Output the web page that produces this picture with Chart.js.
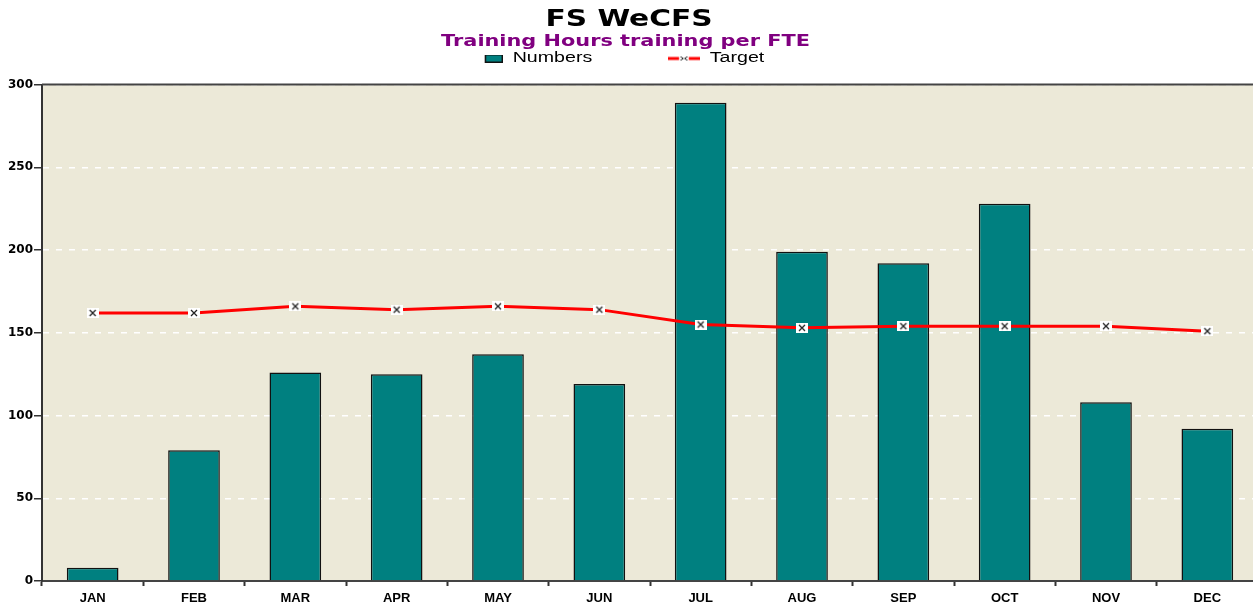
<!DOCTYPE html>
<html>
<head>
<meta charset="utf-8">
<script src="https://cdn.jsdelivr.net/npm/chart.js@4.4.1/dist/chart.umd.min.js"></script>
<style>
  html, body { margin: 0; padding: 0; background: #ffffff; overflow: hidden; width: 1253px; height: 605px; }
  #wrap { width: 1266px; height: 605px; position: relative; }
</style>
</head>
<body>
<div id="wrap"><canvas id="c"></canvas></div>
<script>
const categories = ['JAN','FEB','MAR','APR','MAY','JUN','JUL','AUG','SEP','OCT','NOV','DEC'];
const numbersValues = [8, 79, 126, 125, 137, 119, 289, 199, 192, 228, 108, 92];
const targetValues = [162, 162, 166, 164, 166, 164, 155, 153, 154, 154, 154, 151];
const yTicks = [0, 50, 100, 150, 200, 250, 300];
const titleText = 'FS WeCFS';
const subtitleText = 'Training Hours training per FTE';

// point marker: small white box with dark x
function makeMarker() {
  const c = document.createElement('canvas');
  c.width = 12; c.height = 10;
  const g = c.getContext('2d');
  g.fillStyle = '#ffffff';
  g.fillRect(0, 0, 12, 10);
  g.strokeStyle = '#222';
  g.lineWidth = 1.3;
  g.beginPath();
  g.moveTo(3, 2); g.lineTo(9, 8);
  g.moveTo(9, 2); g.lineTo(3, 8);
  g.stroke();
  return c;
}
const marker = makeMarker();

// legend symbols
function makeBarSwatch() {
  const c = document.createElement('canvas');
  c.width = 23; c.height = 8;
  const g = c.getContext('2d');
  g.fillStyle = '#008080';
  g.fillRect(10.5, 0.5, 12, 7);
  g.strokeStyle = '#111';
  g.lineWidth = 1;
  g.strokeRect(10.5, 0.5, 12, 7);
  return c;
}
function makeLineSwatch() {
  const c = document.createElement('canvas');
  c.width = 23; c.height = 8;
  const g = c.getContext('2d');
  g.fillStyle = '#FF0000';
  g.fillRect(0, 2.5, 23, 3);
  g.fillStyle = '#ffffff';
  g.fillRect(8, 0, 7, 8);
  g.fillStyle = '#222';
  g.fillRect(9, 2, 1, 1); g.fillRect(13, 2, 1, 1);
  g.fillRect(10, 3, 1, 2); g.fillRect(12, 3, 1, 2);
  g.fillRect(9, 5, 1, 1); g.fillRect(13, 5, 1, 1);
  return c;
}
const barSwatch = makeBarSwatch();
const lineSwatch = makeLineSwatch();

const LEGEND_PAD = 54;
const LEGEND_FONT = 14;

const plotDecor = {
  id: 'plotDecor',
  beforeLayout(chart) {
    chart.boxes.forEach(b => {
      if (b._stretched || !b.options) return;
      if (b === chart.legend) {
        const origFit = b.fit;
        b.fit = function () { origFit.call(this); this.height = 33; };
        b.draw = function () {
          if (!this.options.display) return;
          const ctx = this.ctx;
          const cx = (this.left + this.right) / 2;
          const dy = (this.top + LEGEND_PAD + LEGEND_FONT / 2) - 58.5;
          ctx.save();
          ctx.translate(cx - 15.5, -dy);
          ctx.scale(1.4, 1);
          ctx.translate(-cx, 0);
          this._draw();
          ctx.restore();
        };
        b._stretched = true;
      } else if (b.options.text === titleText || b.options.text === subtitleText) {
        const isTitle = b.options.text === titleText;
        const sx = isTitle ? 1.29 : 1.39;
        const dx = isTitle ? -4 : -7.5;
        const orig = b.draw;
        b.draw = function (area) {
          const ctx = this.ctx;
          const cx = (this.left + this.right) / 2;
          ctx.save();
          ctx.translate(cx + dx, 0);
          ctx.scale(sx, 1);
          ctx.translate(-cx, 0);
          orig.call(this, area);
          ctx.restore();
        };
        b._stretched = true;
      }
    });
  },
  beforeDraw(chart) {
    const {ctx, chartArea: a} = chart;
    ctx.save();
    ctx.fillStyle = '#ECE9D8';
    ctx.fillRect(a.left, a.top, a.right - a.left, a.bottom - a.top);
    ctx.restore();
  },
  beforeDatasetsDraw(chart) {
    const {ctx, chartArea: a} = chart;
    ctx.save();
    ctx.strokeStyle = '#444444';
    ctx.lineWidth = 2;
    ctx.beginPath();
    ctx.moveTo(a.left, a.top);
    ctx.lineTo(a.right, a.top);
    ctx.stroke();
    ctx.restore();
  }
};

new Chart(document.getElementById('c'), {
  type: 'bar',
  data: {
    labels: categories,
    datasets: [
      {
        type: 'line',
        label: 'Target',
        data: targetValues,
        borderColor: '#FF0000',
        backgroundColor: '#FF0000',
        borderWidth: 3,
        pointStyle: marker,
        pointRadius: 5,
        tension: 0,
        order: 0
      },
      {
        type: 'bar',
        label: 'Numbers',
        data: numbersValues,
        backgroundColor: '#008080',
        borderColor: '#111111',
        borderWidth: 1.5,
        categoryPercentage: 1.0,
        barPercentage: 0.51,
        order: 1
      }
    ]
  },
  options: {
    responsive: true,
    maintainAspectRatio: false,
    animation: false,
    layout: { padding: 0 },
    plugins: {
      title: {
        display: true,
        text: titleText,
        color: '#000000',
        font: { family: 'DejaVu Sans', size: 23, weight: 'bold', lineHeight: 1.2 },
        padding: { top: 6, bottom: 0 }
      },
      subtitle: {
        display: true,
        text: subtitleText,
        color: '#800080',
        font: { family: 'DejaVu Sans', size: 15, weight: 'bold', lineHeight: 1.2 },
        padding: { top: 0, bottom: 0 }
      },
      legend: {
        display: true,
        reverse: true,
        labels: {
          color: '#000000',
          font: { family: 'Liberation Sans', size: LEGEND_FONT },
          usePointStyle: true,
          boxHeight: 8,
          pointStyleWidth: 23,
          padding: LEGEND_PAD,
          generateLabels(chart) {
            const items = Chart.defaults.plugins.legend.labels.generateLabels(chart);
            items.forEach(it => {
              it.pointStyle = it.text === 'Numbers' ? barSwatch : lineSwatch;
            });
            return items;
          }
        }
      },
      tooltip: { enabled: false }
    },
    scales: {
      x: {
        offset: true,
        grid: {
          display: true,
          drawOnChartArea: false,
          drawTicks: true,
          tickLength: 5,
          tickColor: '#333333',
          tickWidth: 2,
          offset: true
        },
        border: { display: true, color: '#444444', width: 2 },
        ticks: {
          color: '#000000',
          font: { family: 'Liberation Sans', size: 13, weight: 'bold' },
          padding: 5
        },
        afterFit(scale) { scale.height = 24; }
      },
      y: {
        min: 0,
        max: 300,
        afterBuildTicks(scale) { scale.ticks = yTicks.map(v => ({ value: v })); },
        grid: {
          color: '#ffffff',
          lineWidth: 1.5,
          tickBorderDash: [],
          tickColor: '#333333',
          tickWidth: 1.5,
          tickLength: 8,
          drawTicks: true
        },
        border: { display: true, color: '#333333', width: 2, dash: [6, 7] },
        ticks: {
          color: '#000000',
          font: { family: 'DejaVu Sans', size: 12, weight: 'bold' },
          padding: 1
        },
        afterFit(scale) { scale.width = 42; }
      }
    }
  },
  plugins: [plotDecor]
});
</script>
</body>
</html>
